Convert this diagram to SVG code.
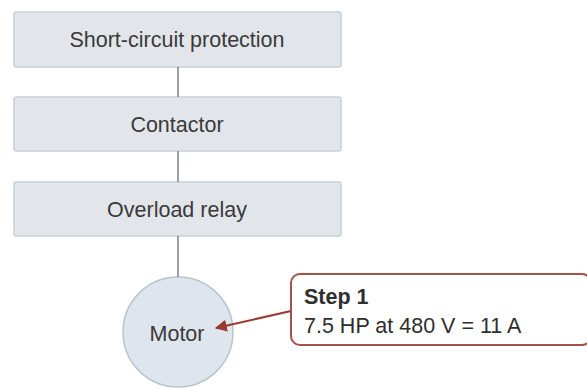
<svg xmlns="http://www.w3.org/2000/svg" width="587" height="388" viewBox="0 0 587 388">
<defs>
<style>
.box{fill:#e2e6eb;stroke:#c9d0d8;stroke-width:1.5}
.lbl{font-family:"Liberation Sans",Arial,sans-serif;font-size:21.5px;fill:#3a3a3a;text-anchor:middle}
.conn{stroke:#7f8a94;stroke-width:1.6;fill:none}
.note{font-family:"Liberation Sans",Arial,sans-serif;font-size:21.5px;fill:#2e2e2e}
</style>
<marker id="ah" viewBox="0 0 10 10" refX="9" refY="5" markerWidth="6" markerHeight="6" orient="auto">
<path d="M0,0 L10,5 L0,10 z" fill="#9a3a30"/>
</marker>
</defs>
<rect width="587" height="388" fill="#ffffff"/>
<g id="node-short-circuit">
<rect class="box" x="14" y="12" width="327" height="55" rx="2"/>
<text class="lbl" x="177" y="47">Short-circuit protection</text>
</g>
<g id="node-contactor">
<rect class="box" x="14" y="97" width="327" height="54" rx="2"/>
<text class="lbl" x="177" y="132">Contactor</text>
</g>
<g id="node-overload">
<rect class="box" x="14" y="182" width="327" height="54" rx="2"/>
<text class="lbl" x="177" y="217">Overload relay</text>
</g>
<g id="node-motor">
<circle cx="178" cy="332" r="55" fill="#dfe5ec" stroke="#b8c5d1" stroke-width="1.5"/>
<text class="lbl" x="177" y="341">Motor</text>
</g>
<g id="callout-step1">
<rect x="291" y="274" width="300" height="71" rx="9" fill="#ffffff" stroke="#a5524b" stroke-width="2"/>
<text class="note" x="304" y="304" font-weight="bold">Step 1</text>
<text class="note" x="304" y="333">7.5 HP at 480 V = 11 A</text>
</g>
<g id="connectors">
<line class="conn" x1="178" y1="67" x2="178" y2="97"/>
<line class="conn" x1="178" y1="151" x2="178" y2="182"/>
<line class="conn" x1="178" y1="236" x2="178" y2="277"/>
<line x1="291" y1="311" x2="216" y2="328" stroke="#9a3a30" stroke-width="2" marker-end="url(#ah)"/>
</g>
</svg>
